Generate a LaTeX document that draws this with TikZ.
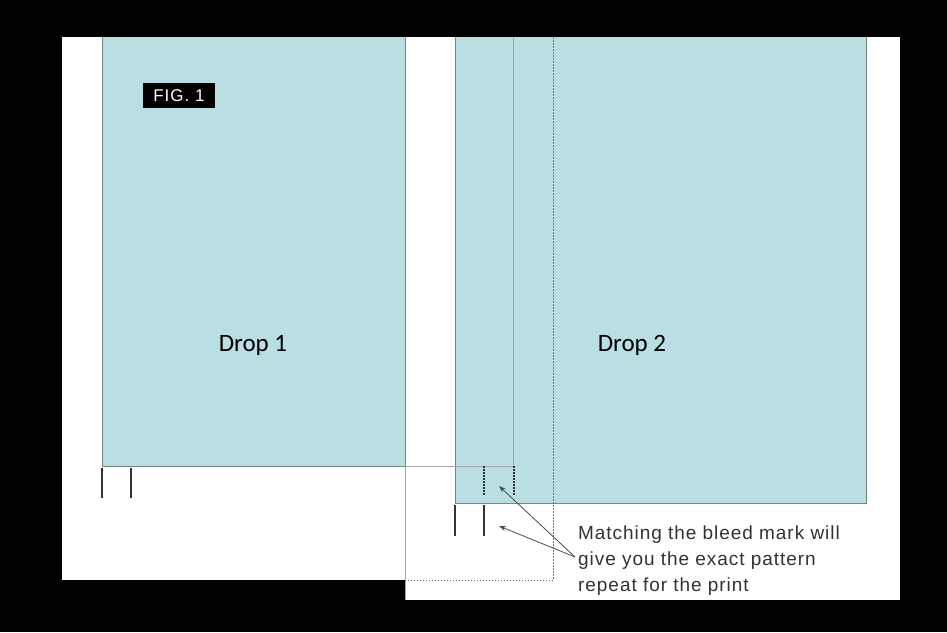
\documentclass[tikz,border=0pt]{standalone}
\usepackage{fontspec}
\setmainfont{Liberation Sans}
\newfontfamily\dropfont{Carlito}
\usetikzlibrary{arrows.meta,positioning}
\definecolor{dropblue}{RGB}{185,223,227}
\definecolor{edgegray}{RGB}{120,130,130}
\tikzset{
  panel/.style={fill=white,draw=none},
  droprect/.style={fill=dropblue,draw=edgegray,line width=1pt},
  bleedmark/.style={line width=2pt,draw=black!80},
  bleeddot/.style={line width=1.6pt,draw=black!80,dash pattern=on 1.5pt off 1.5pt},
  guide/.style={draw=black!55,line width=0.6pt,dash pattern=on 1.5pt off 1.5pt},
  thinline/.style={draw=gray!70,line width=0.5pt},
  pointer/.style={draw=black!70,line width=0.8pt,-{Stealth[length=7pt,width=5pt]}},
}
\begin{document}
\begin{tikzpicture}[x=1pt,y=-1pt]
\fill[black] (0,0) rectangle (947,632);
\useasboundingbox (0,0) rectangle (947,632);
% white sheets
\fill[panel] (62,37) rectangle (405,580);
\fill[panel] (405,37) rectangle (900,600);
% the two drops
\draw[droprect] (102,37) -- (102,466) -- (405,466) -- (405,37);
\draw[droprect] (455,37) -- (455,503) -- (866,503) -- (866,37);
\draw[thinline] (405,466) -- (405,600);
% overlap guides
\draw[thinline] (513,37) -- (513,466) -- (405,466);
\draw[guide] (553,37) -- (553,580) -- (405,580);
% bleed marks
\draw[bleedmark] (102,468) -- (102,498);
\draw[bleedmark] (131,468) -- (131,498);
\draw[bleeddot] (484,466) -- (484,495);
\draw[bleeddot] (514,466) -- (514,495);
\draw[bleedmark] (455,505) -- (455,536);
\draw[bleedmark] (484,505) -- (484,536);
% labels
\node[fill=black,text=white,inner sep=0pt,font=\addfontfeature{LetterSpace=6}\fontsize{17}{19}\selectfont,minimum width=72pt,minimum height=25pt] (fig) at (179,95.5) {FIG. 1};
\node[font=\dropfont\fontsize{25}{28}\selectfont] (drop1) at (253,345) {Drop 1};
\node[font=\dropfont\fontsize{25}{28}\selectfont] (drop2) at (632,345) {Drop 2};
\node[anchor=north west,align=left,text=black!80,inner sep=0pt,font=\addfontfeature{LetterSpace=5}\fontsize{19}{26}\selectfont] (note) at (578,526) {Matching the bleed mark will\\give you the exact pattern\\repeat for the print};
\coordinate (tip1) at (499,486);
\coordinate (tip2) at (499,526);
\coordinate (src) at (575,557);
\draw[pointer] (src) -- (tip1);
\draw[pointer] (src) -- (tip2);
\end{tikzpicture}
\end{document}
